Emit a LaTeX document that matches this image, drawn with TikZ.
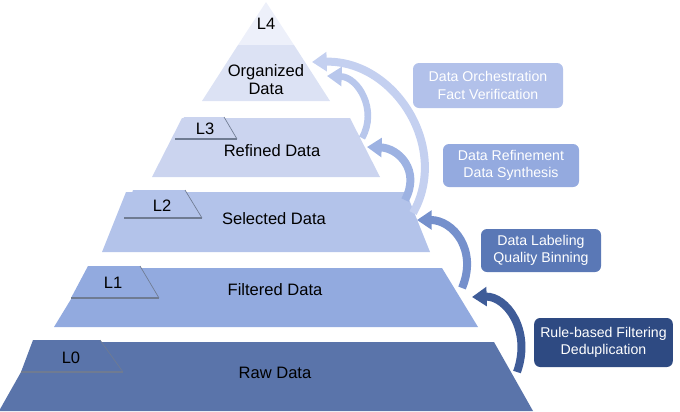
\documentclass[tikz,border=0pt]{standalone}
\usepackage{fontspec}
\setmainfont{Liberation Sans}
\usetikzlibrary{arrows.meta}
\definecolor{lvfour}{HTML}{EDF0FA}
\definecolor{lvorg}{HTML}{DCE2F4}
\definecolor{lvthree}{HTML}{CBD4EF}
\definecolor{lvtwo}{HTML}{B3C3EA}
\definecolor{lvone}{HTML}{92AADF}
\definecolor{lvzero}{HTML}{5A74AA}
\definecolor{tabshadow}{HTML}{6F7B92}
\definecolor{boxa}{HTML}{B2C1EA}
\definecolor{boxb}{HTML}{94AADF}
\definecolor{boxc}{HTML}{5A78B6}
\definecolor{boxd}{HTML}{2E4A82}
\definecolor{arra}{HTML}{C4D0F0}
\definecolor{arrb}{HTML}{B8C7EC}
\definecolor{arrc}{HTML}{9DB2E2}
\definecolor{arrd}{HTML}{7590CC}
\definecolor{arre}{HTML}{3F5C98}
\begin{document}
\begin{tikzpicture}[x=0.75pt,y=-0.75pt,
	layertext/.style={font=\fontsize{12.4}{13.5}\selectfont,align=center},
	stepbox/.style={rounded corners=4.5pt,text=white,align=center,
		font=\fontsize{10.6}{13}\selectfont,inner sep=0pt},
	liftarrow/.style={line width=6pt,-{Triangle[length=11pt,width=14pt]}}]
	\useasboundingbox (0,0) rectangle (680,411);
	% pyramid layers
	\fill[lvfour] (266,2)--(294,45)--(238,45)--cycle;
	\fill[lvorg] (238,45)--(294,45)--(330,101)--(202,101)--cycle;
	\foreach \ty/\wt/\by/\wb/\col in {118/84/177/114/lvthree,
		192/140/252/164/lvtwo,268/176/327/212/lvone,342/228/411/267/lvzero}
	\fill[\col] (266-\wt,\ty)--(266+\wt,\ty)--(266+\wb,\by)--(266-\wb,\by)--cycle;
	% level tabs
	\foreach \pa/\pb/\pc/\pd/\ty/\by/\col in {184/224/237/175/117/139/lvthree,
		133/185/202/124/190/218/lvtwo,88/140/159/71/266/298/lvone,
		33/100/123/21/340/372/lvzero}
	{\fill[\col] (\pa,\ty)--(\pb,\ty)--(\pc,\by)--(\pd,\by)--cycle;
	\draw[tabshadow,line width=0.5pt] (\pb,\ty)--(\pc,\by);
	\draw[tabshadow,line width=1.2pt] (\pd,\by)--(\pc,\by);}
	\foreach \x/\y/\name/\texn in {266/24/lfour/L4,266/80/lorg/{Organized\\Data},
		205/129/lthree/L3,272/151/lrefined/Refined Data,
		162/206/ltwo/L2,274/219/lselected/Selected Data,
		113/283/lone/L1,275/290/lfiltered/Filtered Data,
		71/358/lzero/L0,275/373/lraw/Raw Data}
	\path (\x,\y) node[layertext](\name){\texn};
	% process boxes
	\node[stepbox,fill=boxa,minimum width=112.5pt,minimum height=33.75pt]
	(orch) at (488,85.5) {Data Orchestration\\Fact Verification};
	\node[stepbox,fill=boxb,minimum width=102pt,minimum height=32.25pt]
	(refine) at (511,165.5) {Data Refinement\\Data Synthesis};
	\node[stepbox,fill=boxc,minimum width=90pt,minimum height=32.25pt]
	(label) at (541,250.5) {Data Labeling\\Quality Binning};
	\node[stepbox,fill=boxd,minimum width=104pt,minimum height=36.75pt]
	(rule) at (603.5,342.5) {Rule-based Filtering\\Deduplication};
	% curved arrows
	\coordinate (atail) at (413,213); \coordinate (ahead) at (312,62);
	\coordinate (btail) at (362,138); \coordinate (bhead) at (327,76);
	\coordinate (ctail) at (405,200); \coordinate (chead) at (367,147);
	\coordinate (dtail) at (462,288); \coordinate (dhead) at (417,220);
	\coordinate (etail) at (517,372); \coordinate (ehead) at (472,297);
	\draw[liftarrow,arra] (atail) .. controls (450,148) and (395,60) .. (ahead);
	\draw[liftarrow,arrb,line width=5pt] (btail) .. controls (378,110) and (358,77) .. (bhead);
	\draw[liftarrow,arrc] (ctail) .. controls (421,170) and (398,148) .. (chead);
	\draw[liftarrow,arrd] (dtail) .. controls (478,250) and (453,220) .. (dhead);
	\draw[liftarrow,arre] (etail) .. controls (532,330) and (506,296) .. (ehead);
\end{tikzpicture}
\end{document}
